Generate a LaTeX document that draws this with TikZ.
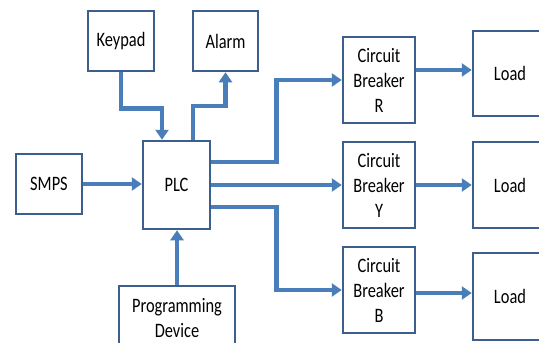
\documentclass[tikz,border=0pt]{standalone}
\usepackage{fontspec}
\setmainfont{Carlito}[FakeStretch=0.8]
\usetikzlibrary{arrows.meta,positioning,calc}
\definecolor{BoxBlue}{HTML}{3D5F8E}
\definecolor{LinkBlue}{HTML}{4A7EBB}
\tikzset{
  blk/.style={draw=BoxBlue,fill=white,line width=2.5pt,align=center,inner sep=0pt,
              font=\fontsize{20.5}{25}\selectfont},
  link/.style={-{Triangle[length=10pt,width=13pt]},draw=LinkBlue,line width=4.5pt},
}
\begin{document}
\begin{tikzpicture}[x=1pt,y=-1pt]
    \clip (0,0) rectangle (539,343);
    \fill[white] (0,0) rectangle (539,343);

    % left part
    \node[blk,minimum width=66pt,minimum height=60pt] (keypad) at (121,41) {Keypad};
    \node[blk,minimum width=65pt,minimum height=60pt] (alarm) at (225.5,41) {Alarm};
    \node[blk,minimum width=66pt,minimum height=60pt] (smps) at (49,184) {SMPS};
    \node[blk,minimum width=67pt,minimum height=88pt] (plc) at (176.5,185) {PLC};
    \node[blk,minimum width=116pt,minimum height=64pt] (prog) at (177,318) {Programming\\Device};

    % breakers and loads
    \node[blk,minimum width=72pt,minimum height=86pt] (cbR) at (379,80) {Circuit\\Breaker\\R};
    \node[blk,minimum width=72pt,minimum height=86pt] (cbY) at (379,185) {Circuit\\Breaker\\Y};
    \node[blk,minimum width=72pt,minimum height=86pt] (cbB) at (379,290) {Circuit\\Breaker\\B};
    \node[blk,minimum width=74pt,minimum height=85pt] (loadR) at (510,73.5) {Load};
    \node[blk,minimum width=74pt,minimum height=86pt] (loadY) at (510,185) {Load};
    \node[blk,minimum width=74pt,minimum height=87pt] (loadB) at (510,296.5) {Load};

    % connections
    \draw[link] (keypad.south) -- ++(0,36) -| ([xshift=-14.5pt]plc.north);
    \draw[link] ([xshift=16.5pt]plc.north) -- ++(0,-34) -| (alarm.south);
    \draw[link] (smps.east) -- (smps.east -| plc.west);
    \draw[link] (prog.north) -- (prog.north |- plc.south);
    \draw[link] ([yshift=23pt]plc.east) -- ++(65,0) |- (cbR.west);
    \draw[link] (plc.east) -- (cbY.west);
    \draw[link] ([yshift=-22pt]plc.east) -- ++(65,0) |- (cbB.west);
    \draw[link] ([yshift=10pt]cbR.east) -- ([yshift=10pt]cbR.east -| loadR.west);
    \draw[link] (cbY.east) -- (loadY.west);
    \draw[link] ([yshift=-3pt]cbB.east) -- ([yshift=-3pt]cbB.east -| loadB.west);
\end{tikzpicture}
\end{document}
